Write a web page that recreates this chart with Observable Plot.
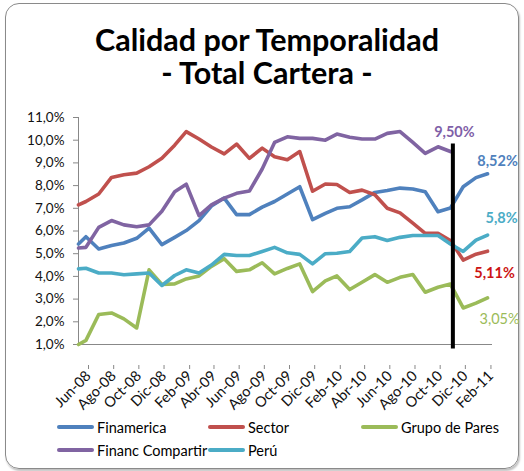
<!DOCTYPE html>
<html><head><meta charset="utf-8">
<script src="https://cdn.jsdelivr.net/npm/d3@7"></script>
<script src="https://cdn.jsdelivr.net/npm/@observablehq/plot@0.6"></script>
<style>
html,body{margin:0;padding:0;background:#fff;}
#wrap{position:relative;width:524px;height:471px;overflow:hidden;font-family:Lato,"Liberation Sans",sans-serif;}
#frame{position:absolute;left:5px;top:3px;width:512px;height:464px;border:1.5px solid #8a8a8a;border-radius:14px;box-shadow:1px 2px 2px rgba(0,0,0,0.25);}
#title{position:absolute;left:0;top:23px;width:534px;text-align:center;font-weight:700;font-size:30.5px;line-height:33px;color:#000;}
#chart{position:absolute;left:0;top:100px;}
#legend{position:absolute;left:0;top:0;width:524px;height:471px;pointer-events:none;}
.li{position:absolute;display:flex;align-items:center;font-size:14.5px;color:#000;white-space:nowrap;}
.sw{display:inline-block;width:37px;height:4px;border-radius:2px;margin-right:3px;}
</style></head>
<body>
<div id="wrap">
  <div id="frame"></div>
  <div id="title">Calidad por Temporalidad<br>- Total Cartera -</div>
  <div id="chart"></div>
  <div id="legend"></div>
</div>
<script>
// ---- data ----
const dates = ["2008-06-12","2008-06-30","2008-07-31","2008-08-31","2008-09-30","2008-10-31","2008-11-30","2008-12-31",
  "2009-01-31","2009-02-28","2009-03-31","2009-04-30","2009-05-31","2009-06-30","2009-07-31","2009-08-31","2009-09-30",
  "2009-10-31","2009-11-30","2009-12-31","2010-01-31","2010-02-28","2010-03-31","2010-04-30","2010-05-31","2010-06-30",
  "2010-07-31","2010-08-31","2010-09-30","2010-10-31","2010-11-30","2010-12-31","2011-01-31","2011-02-28"];
const seriesNames = ["Finamerica","Sector","Grupo de Pares","Financ Compartir","Perú"];
const finamerica = [5.43,5.75,5.21,5.36,5.47,5.68,6.13,5.40,5.72,6.02,6.46,7.10,7.45,6.72,6.72,7.05,7.30,7.63,7.95,6.50,6.78,7.00,7.07,7.37,7.70,7.78,7.89,7.85,7.73,6.85,7.01,7.95,8.35,8.52];
const sector = [7.15,7.30,7.63,8.36,8.48,8.55,8.83,9.20,9.78,10.38,10.05,9.70,9.40,9.83,9.20,9.65,9.27,9.14,9.50,7.75,8.07,8.05,7.70,7.80,7.60,7.00,6.80,6.35,5.90,5.90,5.58,4.72,4.98,5.11];
const grupoPares = [1.00,1.18,2.32,2.39,2.13,1.73,4.29,3.65,3.67,3.89,4.02,4.44,4.78,4.22,4.29,4.60,4.11,4.35,4.55,3.33,3.80,4.02,3.42,3.74,4.08,3.74,3.96,4.08,3.30,3.52,3.66,2.61,2.82,3.05];
const financCompartir = [5.25,5.28,6.16,6.46,6.27,6.19,6.27,6.87,7.73,8.06,6.68,7.15,7.45,7.66,7.76,8.73,9.90,10.15,10.08,10.08,10.00,10.27,10.13,10.05,10.05,10.30,10.38,9.90,9.42,9.71,9.50,null,null,null];
const peru = [4.33,4.36,4.15,4.15,4.07,4.11,4.15,3.60,4.04,4.29,4.15,4.50,4.97,4.92,4.92,5.10,5.28,5.04,4.97,4.55,5.00,5.02,5.10,5.69,5.75,5.58,5.72,5.80,5.80,5.80,5.43,5.10,5.60,5.82];
const endLabels = ["8,52%","5,11%","3,05%","9,50%","5,8%"];
const tickDates = ["2008-06-12","2008-08-12","2008-10-12","2008-12-12","2009-02-12","2009-04-12","2009-06-12","2009-08-12",
  "2009-10-12","2009-12-12","2010-02-12","2010-04-12","2010-06-12","2010-08-12","2010-10-12","2010-12-12","2011-02-12"];
const tickLabels = ["Jun-08","Ago-08","Oct-08","Dic-08","Feb-09","Abr-09","Jun-09","Ago-09","Oct-09","Dic-09","Feb-10","Abr-10","Jun-10","Ago-10","Oct-10","Dic-10","Feb-11"];
const yTicks = [1,2,3,4,5,6,7,8,9,10,11];
const xDomain = ["2008-06-12","2011-03-12"];
const cutDate = "2010-12-06";

// ---- build ----
const colors = ["#4F81BD","#C0504D","#9BBB59","#8064A2","#4BACC6"];
const labelColors = ["#4F81BD","#CC1414","#9BBB59","#7F5FA8","#4BACC6"];
const allSeries = [finamerica, sector, grupoPares, financCompartir, peru];
const P = d => new Date(d + "T00:00:00Z");
const rows = [];
allSeries.forEach((arr, s) => arr.forEach((v, i) => { if (v != null) rows.push({date: P(dates[i]), value: v, series: seriesNames[s]}); }));
const lastPts = allSeries.map((arr, s) => {
  let i = arr.length - 1; while (arr[i] == null) i--;
  return {date: P(dates[i]), value: arr[i], label: endLabels[s], color: labelColors[s], s};
});
const tickTimes = tickDates.map(d => +P(d));
const fmtX = d => tickLabels[tickTimes.indexOf(+d)] ?? "";
const fmtY = d => d.toFixed(1).replace(".", ",") + "%";
const offs = [[10,-12],[7,22],[12,21],[4,-19],[14,-17]];

const chart = Plot.plot({
  width: 524, height: 300,
  marginLeft: 78, marginRight: 32, marginTop: 17, marginBottom: 56,
  x: {type: "utc", domain: xDomain.map(P)},
  y: {domain: [1, 11]},
  color: {domain: seriesNames, range: colors},
  style: {fontFamily: "Lato, 'Liberation Sans', sans-serif", fontSize: "13px", color: "#000", background: "transparent", overflow: "visible"},
  marks: [
    Plot.axisY({ticks: yTicks, tickFormat: fmtY, tickSize: 5, tickPadding: 9, stroke: "#888", fill: "#111", label: null, fontSize: 13.5}),
    Plot.axisX({ticks: tickDates.map(P), tickFormat: fmtX, tickRotate: -45, tickSize: 4, tickPadding: 4, stroke: "#888", fill: "#111", label: null, dx: 10, dy: 21, fontSize: 14.5}),
    Plot.ruleX([P(xDomain[0])], {stroke: "#888", strokeWidth: 1}),
    Plot.ruleY([1], {stroke: "#888", strokeWidth: 1}),
    Plot.lineY(rows, {x: "date", y: "value", z: "series", stroke: "series", strokeWidth: 3.6, strokeLinejoin: "round", strokeLinecap: "round"}),
    Plot.ruleX([P(cutDate)], {y1: 9.83, y2: 0.8, stroke: "#000", strokeWidth: 4}),
    ...lastPts.map((p, k) => Plot.text([p], {x: "date", y: "value", text: "label", fill: p.color,
      dx: offs[k][0], dy: offs[k][1], fontWeight: p.s === 2 ? 400 : 700, fontSize: 14.5}))
  ]
});
document.getElementById("chart").appendChild(chart);

// legend
const legendPos = [[57,427],[208,427],[361,427],[57,450],[208,450]];
const lg = document.getElementById("legend");
seriesNames.forEach((n, i) => {
  const d = document.createElement("div");
  d.className = "li";
  d.style.left = legendPos[i][0] + "px";
  d.style.top = (legendPos[i][1] - 10) + "px";
  d.style.height = "20px";
  d.innerHTML = `<span class="sw" style="background:${colors[i]}"></span>${n}`;
  lg.appendChild(d);
});
</script>
</body></html>
